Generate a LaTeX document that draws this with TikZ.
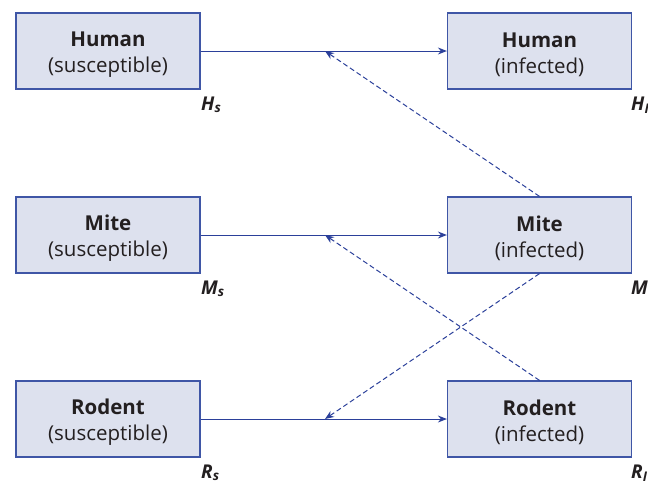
\documentclass[tikz,border=0pt]{standalone}
\usepackage{fontspec}
\setmainfont{Open Sans}
\usetikzlibrary{arrows.meta}
\definecolor{boxfill}{HTML}{DDE1EE}
\definecolor{boxline}{HTML}{3F56A6}
\definecolor{arrowc}{HTML}{2B409A}
\definecolor{txt}{HTML}{231F20}
\newcommand{\toppad}{\rule{0pt}{21.5pt}}
\begin{document}
\begin{tikzpicture}[x=1pt,y=-1pt,
  statebox/.style={draw=boxline,line width=1.2pt,fill=boxfill,minimum width=184pt,minimum height=76pt,inner sep=0pt,align=center,text=txt,font=\fontsize{20.5}{26}\selectfont},
  flow/.style={draw=arrowc,line width=1pt,-{Stealth[length=9pt,width=7pt]}},
  infect/.style={draw=arrowc,line width=1pt,dashed,dash pattern=on 5pt off 3pt,-{Stealth[length=9pt,width=7pt]}},
  varlab/.style={text=txt,font=\fontsize{19}{22}\selectfont\bfseries\itshape,anchor=base west,inner sep=0pt}]
\useasboundingbox (0,0) rectangle (648,480);
\node[statebox] (hs) at (108,51) {\toppad\textbf{Human}\\(susceptible)};
\node[statebox] (hi) at (539.5,51) {\toppad\textbf{Human}\\(infected)};
\node[statebox] (ms) at (108,235) {\toppad\textbf{Mite}\\(susceptible)};
\node[statebox] (mi) at (539.5,235) {\toppad\textbf{Mite}\\(infected)};
\node[statebox] (rs) at (108,419) {\toppad\textbf{Rodent}\\(susceptible)};
\node[statebox] (ri) at (539.5,419) {\toppad\textbf{Rodent}\\(infected)};
\draw[flow] (hs.east) -- (hi.west);
\draw[flow] (ms.east) -- (mi.west);
\draw[flow] (rs.east) -- (ri.west);
\coordinate (ht) at (325,51);
\coordinate (mt) at (325,235);
\coordinate (rt) at (325,419);
\draw[infect] (mi.north) -- (ht);
\draw[infect] (ri.north) -- (mt);
\draw[infect] (mi.south) -- (rt);
\node[varlab] (lhs) at (201,110) {H\textsubscript{s}};
\node[varlab] (lhi) at (631,110) {H\textsubscript{I}};
\node[varlab] (lms) at (201,294) {M\textsubscript{s}};
\node[varlab] (lmi) at (631,294) {M\textsubscript{I}};
\node[varlab] (lrs) at (201,478) {R\textsubscript{s}};
\node[varlab] (lri) at (631,478) {R\textsubscript{I}};
\end{tikzpicture}
\end{document}
